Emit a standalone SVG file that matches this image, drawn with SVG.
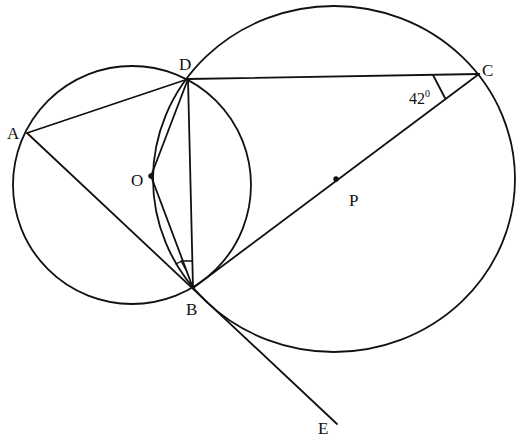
<svg xmlns="http://www.w3.org/2000/svg" width="525" height="440" viewBox="0 0 525 440">
<style>
.ln{stroke:#111;stroke-width:1.8;fill:none;stroke-linecap:round}
.lb{font-family:"Liberation Serif","Times New Roman",serif;font-size:17px;fill:#111}
.dot{fill:#111}
</style>
<rect width="525" height="440" fill="#fff"/>
<g id="circles">
<circle id="circleO" class="ln" cx="132" cy="185" r="119"/>
<ellipse id="circleP" class="ln" cx="334" cy="179" rx="181" ry="173"/>
</g>
<g id="connectors">
<line class="ln" x1="27" y1="133" x2="188" y2="79"/>
<line class="ln" x1="188" y1="79" x2="479" y2="74"/>
<line class="ln" x1="27" y1="133" x2="337" y2="424"/>
<line class="ln" x1="193" y1="288" x2="479" y2="74"/>
<line class="ln" x1="188" y1="79" x2="193" y2="288"/>
<line class="ln" x1="188" y1="79" x2="151" y2="176"/>
<line class="ln" x1="151" y1="176" x2="193" y2="288"/>
<line class="ln" x1="433" y1="75" x2="445" y2="98"/>
<polyline class="ln" style="stroke-width:1.3" points="176,264 182,261 192,261"/>
<line class="ln" style="stroke-width:1.3" x1="181" y1="261" x2="186" y2="270"/>
</g>
<g id="points">
<circle class="dot" cx="151" cy="176" r="2.7"/>
<circle class="dot" cx="336" cy="179" r="2.7"/>
</g>
<g id="labels">
<text class="lb" x="7" y="139">A</text>
<text class="lb" x="179" y="70">D</text>
<text class="lb" x="482" y="76">C</text>
<text class="lb" x="131" y="186">O</text>
<text class="lb" x="349" y="206">P</text>
<text class="lb" x="186" y="315">B</text>
<text class="lb" x="318" y="434">E</text>
<text class="lb" x="409" y="104" style="font-size:16px">42<tspan dy="-7" style="font-size:10px">0</tspan></text>
</g>
</svg>
